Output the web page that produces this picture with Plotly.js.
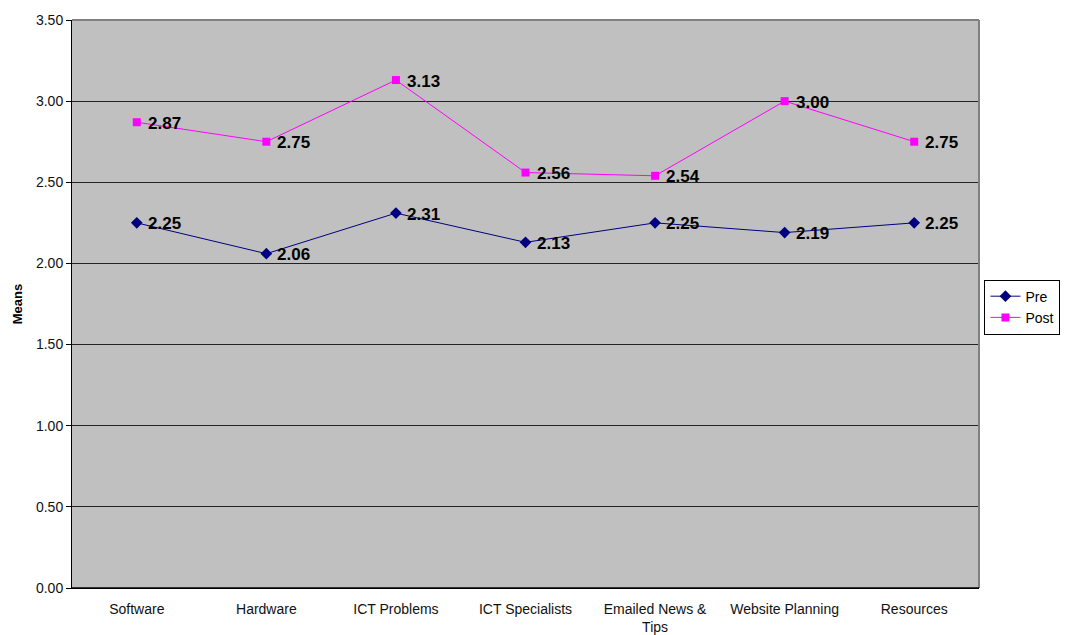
<!DOCTYPE html>
<html>
<head>
<meta charset="utf-8">
<script src="https://cdn.plot.ly/plotly-3.0.1.min.js"></script>
<style>html,body{margin:0;padding:0;background:#fff;}#chart{width:1065px;height:635px;}</style>
</head>
<body>
<div id="chart"></div>
<script>
const categories = ["Software", "Hardware", "ICT Problems", "ICT Specialists", "Emailed News &<br>Tips", "Website Planning", "Resources"];
const preValues = [2.25, 2.06, 2.31, 2.13, 2.25, 2.19, 2.25];
const postValues = [2.87, 2.75, 3.13, 2.56, 2.54, 3.00, 2.75];
const yTickVals = [0, 0.5, 1, 1.5, 2, 2.5, 3, 3.5];
const yTickText = ["0.00", "0.50", "1.00", "1.50", "2.00", "2.50", "3.00", "3.50"];

const labelFont = {family: "Liberation Sans, Arial, sans-serif", size: 17, color: "#000"};

const traces = [
  {
    x: categories, y: preValues, name: "Pre", type: "scatter", mode: "lines+markers",
    line: {color: "#000080", width: 1},
    marker: {symbol: "diamond", size: 9, color: "#000080"},
    cliponaxis: false
  },
  {
    x: categories, y: postValues, name: "Post", type: "scatter", mode: "lines+markers",
    line: {color: "#FF00FF", width: 1},
    marker: {symbol: "square", size: 8, color: "#FF00FF"},
    cliponaxis: false
  }
];

const makeLabels = vals => vals.map((v, i) => ({
  x: categories[i], y: v, xref: "x", yref: "y",
  text: "<b>" + v.toFixed(2) + "</b>",
  showarrow: false, xanchor: "left", yanchor: "middle",
  xshift: 9, yshift: -1,
  font: labelFont
}));

const layout = {
  width: 1065, height: 635,
  margin: {l: 72, r: 86, t: 20, b: 47, autoexpand: false},
  paper_bgcolor: "#fff",
  plot_bgcolor: "#C0C0C0",
  font: {family: "Liberation Sans, Arial, sans-serif", size: 14, color: "#111"},
  showlegend: true,
  legend: {
    x: 1.006, y: 0.543, xanchor: "left", yanchor: "top",
    bgcolor: "#fff", bordercolor: "#000", borderwidth: 1,
    font: {size: 14, color: "#000"},
    itemwidth: 30, tracegroupgap: 0
  },
  xaxis: {
    type: "category",
    range: [-0.5, 6.5],
    showgrid: false,
    showline: true, linecolor: "#000", linewidth: 1,
    ticks: "outside", ticklen: 8, tickcolor: "rgba(0,0,0,0)",
    tickfont: {size: 14, color: "#111"},
    zeroline: false, fixedrange: true
  },
  yaxis: {
    range: [0, 3.5],
    tickvals: yTickVals, ticktext: yTickText,
    showgrid: true, gridcolor: "#222", gridwidth: 1,
    showline: true, linecolor: "#000", linewidth: 1,
    ticks: "outside", ticklen: 5, tickcolor: "#000",
    tickfont: {size: 14, color: "#111"},
    zeroline: false,
    title: {text: "<b>Means</b>", font: {size: 13, color: "#000"}, standoff: 10},
    fixedrange: true
  },
  annotations: makeLabels(preValues).concat(makeLabels(postValues)),
  shapes: [
    {type: "line", xref: "paper", yref: "paper", x0: 0, x1: 1, y0: 1, y1: 1, line: {color: "#808080", width: 2}},
    {type: "line", xref: "paper", yref: "paper", x0: 1, x1: 1, y0: 0, y1: 1, line: {color: "#808080", width: 2}},
    {type: "line", xref: "paper", yref: "paper", x0: 0, x1: 1, y0: 0, y1: 0, line: {color: "#000", width: 1.5}}
  ]
};

Plotly.newPlot("chart", traces, layout, {displayModeBar: false, staticPlot: true});
</script>
</body>
</html>
